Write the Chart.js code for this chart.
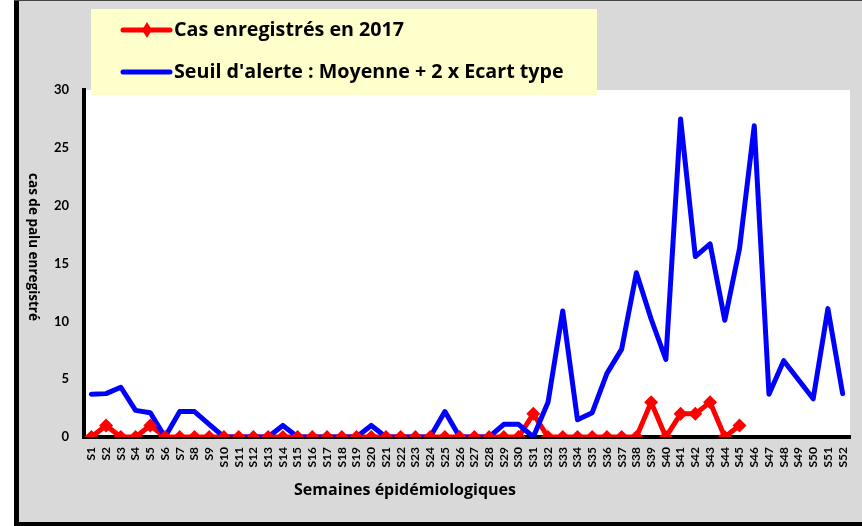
<!DOCTYPE html>
<html>
<head>
<meta charset="utf-8">
<script src="https://cdn.jsdelivr.net/npm/chart.js@4.4.1/dist/chart.umd.min.js"></script>
<style>
  html, body { margin: 0; padding: 0; background: #fff; }
  #wrap { position: relative; width: 862px; height: 526px; }
</style>
</head>
<body>
<div id="wrap"><canvas id="c" width="862" height="526"></canvas></div>
<script>
// semaines épidémiologiques
const semaines = ["S1","S2","S3","S4","S5","S6","S7","S8","S9","S10","S11","S12","S13",
  "S14","S15","S16","S17","S18","S19","S20","S21","S22","S23","S24","S25","S26",
  "S27","S28","S29","S30","S31","S32","S33","S34","S35","S36","S37","S38","S39",
  "S40","S41","S42","S43","S44","S45","S46","S47","S48","S49","S50","S51","S52"];

// cas enregistrés en 2017 (s'arrête à S45)
const cas2017 = [0,1,0,0,1,0,0,0,0,0,0,0,0,
  0,0,0,0,0,0,0,0,0,0,0,0,0,
  0,0,0,0,2,0,0,0,0,0,0,0,3,
  0,2,2,3,0,1,null,null,null,null,null,null,null];

// seuil d'alerte : moyenne + 2 x écart type
const seuil = [3.7,3.75,4.3,2.3,2.1,0,2.2,2.2,1.1,0,0,0,0,
  1.0,0,0,0,0,0,1.0,0,0,0,0,2.2,0,
  0,0,1.1,1.1,0,3.0,10.9,1.5,2.1,5.5,7.6,14.2,10.2,
  6.7,27.5,15.6,16.7,10.1,16.3,26.9,3.7,6.6,4.95,3.3,11.1,3.75];

const yTicks = [0,5,10,15,20,25,30];

const legendeItems = [
  { texte: "Cas enregistrés en 2017", couleur: "#FF0000", marqueur: true },
  { texte: "Seuil d'alerte : Moyenne + 2 x Ecart type", couleur: "#0000FF", marqueur: false },
];

const FONTE = "Lato, 'Open Sans', sans-serif";
const FONTE_TITRE = "'Open Sans', Lato, sans-serif";

/* ---------- fond, cadre, titres, légende ---------- */
const decor = {
  id: "decor",
  beforeDraw(chart) {
    const { ctx, chartArea: a } = chart;
    ctx.save();
    ctx.fillStyle = "#fff";
    ctx.fillRect(0, 0, 862, 526);
    ctx.fillStyle = "#D9D9D9";
    ctx.fillRect(19, 1, 843, 521);
    ctx.fillStyle = "#000";
    ctx.fillRect(14, 0, 5, 526);
    ctx.fillRect(14, 522, 848, 4);
    ctx.fillStyle = "#444";
    ctx.fillRect(14, 0, 848, 1);
    ctx.fillStyle = "#fff";
    ctx.fillRect(a.left, a.top, a.right - a.left, a.bottom - a.top);
    ctx.restore();
  },
  afterDraw(chart) {
    const { ctx } = chart;
    ctx.save();
    ctx.fillStyle = "#000";
    // titre axe x
    ctx.font = `bold 16px ${FONTE_TITRE}`;
    ctx.textAlign = "center";
    ctx.textBaseline = "middle";
    ctx.fillText("Semaines épidémiologiques", 405, 490);
    // titre axe y
    ctx.translate(33, 247);
    ctx.rotate(Math.PI / 2);
    ctx.font = `bold 13.5px ${FONTE_TITRE}`;
    ctx.fillText("cas de palu enregistré", 0, 0);
    ctx.restore();

    // légende
    ctx.save();
    ctx.fillStyle = "#FFFFCC";
    ctx.fillRect(91, 9, 506, 86);
    legendeItems.forEach((it, i) => {
      const y = 30 + i * 42;
      ctx.strokeStyle = it.couleur;
      ctx.lineWidth = 5;
      ctx.lineCap = "round";
      ctx.beginPath();
      ctx.moveTo(123, y);
      ctx.lineTo(170, y);
      ctx.stroke();
      if (it.marqueur) {
        ctx.fillStyle = it.couleur;
        ctx.beginPath();
        ctx.moveTo(147, y - 8);
        ctx.lineTo(152, y);
        ctx.lineTo(147, y + 8);
        ctx.lineTo(142, y);
        ctx.closePath();
        ctx.fill();
      }
      ctx.fillStyle = "#000";
      ctx.font = `bold 19.7px ${FONTE_TITRE}`;
      ctx.textAlign = "left";
      ctx.textBaseline = "middle";
      ctx.fillText(it.texte, 174, y);
    });
    ctx.restore();
  },
};

new Chart(document.getElementById("c"), {
  type: "line",
  data: {
    labels: semaines,
    datasets: [
      {
        // ligne rouge (sous la ligne bleue, comme Excel)
        label: "Cas enregistrés en 2017",
        data: cas2017,
        order: 3,
        borderColor: "#FF0000",
        backgroundColor: "#FF0000",
        borderWidth: 5,
        pointRadius: 0,
        borderJoinStyle: "round",
        tension: 0,
        spanGaps: false,
      },
      {
        label: "Seuil d'alerte : Moyenne + 2 x Ecart type",
        data: seuil,
        order: 2,
        borderColor: "#0000FF",
        backgroundColor: "#0000FF",
        borderWidth: 5,
        pointRadius: 0,
        borderJoinStyle: "round",
        borderCapStyle: "round",
        tension: 0,
      },
      {
        // marqueurs rouges au-dessus de tout
        label: "marqueurs 2017",
        data: cas2017,
        order: 1,
        showLine: false,
        borderColor: "#FF0000",
        backgroundColor: "#FF0000",
        pointStyle: "rectRot",
        pointRadius: 7,
        pointBorderWidth: 0,
      },
    ],
  },
  options: {
    responsive: false,
    animation: false,
    layout: { padding: { top: 90, right: 12, left: 0, bottom: 0 } },
    plugins: { legend: { display: false }, tooltip: { enabled: false } },
    scales: {
      x: {
        offset: true,
        grid: { display: false, drawTicks: false },
        border: { display: true, color: "#000", width: 4 },
        ticks: {
          autoSkip: false, minRotation: 90, maxRotation: 90, padding: 10,
          color: "#000", font: { family: FONTE, size: 12, weight: "bold" },
        },
        afterFit: (s) => { s.height = 89; s.paddingLeft = 0; s.paddingRight = 0; },
      },
      y: {
        min: 0, max: 30,
        afterBuildTicks: (s) => { s.ticks = yTicks.map((v) => ({ value: v })); },
        grid: { display: false, drawTicks: false },
        border: { display: true, color: "#000", width: 4 },
        ticks: {
          padding: 15, color: "#000",
          font: { family: FONTE, size: 13, weight: "bold" },
        },
        afterFit: (s) => { s.width = 84; s.paddingTop = 0; s.paddingBottom = 0; },
      },
    },
  },
  plugins: [decor],
});
</script>
</body>
</html>
